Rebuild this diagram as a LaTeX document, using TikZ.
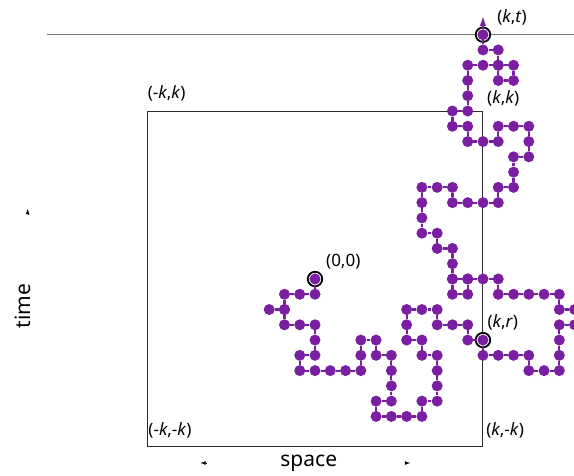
\documentclass[tikz,border=0pt]{standalone}
\usepackage{fontspec}
\setmainfont{Noto Sans}
\usetikzlibrary{arrows.meta}
\definecolor{wpurple}{RGB}{123,31,162}
\definecolor{boxgray}{RGB}{45,45,45}
\definecolor{linegray}{RGB}{120,120,120}
\def\walklist{0/0,0/-1,-1/-1,-2/-1,-2/-2,-3/-2,-2/-2,-2/-3,-1/-3,0/-3,0/-4,0/-5,-1/-5,-1/-6,0/-6,1/-6,2/-6,3/-6,3/-5,3/-4,4/-4,4/-5,5/-5,5/-6,5/-7,5/-8,4/-8,4/-9,5/-9,6/-9,7/-9,7/-8,8/-8,8/-7,8/-6,8/-5,7/-5,7/-4,6/-4,6/-3,6/-2,7/-2,8/-2,8/-3,9/-3,10/-3,10/-4,11/-4,11/-5,12/-5,13/-5,14/-5,14/-6,15/-6,16/-6,16/-5,16/-4,16/-3,17/-3,17/-2,16/-2,16/-1,15/-1,14/-1,13/-1,12/-1,12/0,11/0,10/0,9/0,9/-1,10/-1,10/0,9/0,9/1,9/2,8/2,8/3,7/3,7/4,7/5,7/6,8/6,9/6,9/5,10/5,11/5,12/5,12/6,13/6,13/7,13/8,14/8,14/9,14/10,13/10,12/10,12/9,11/9,10/9,10/10,9/10,9/11,10/11,10/12,10/13,10/14,11/14,12/14,13/14,13/13,12/13,12/14,12/15,11/15,11/16}
\begin{document}
\begin{tikzpicture}[x=15.27pt,y=15.27pt,
  dot/.style={circle,fill=wpurple,inner sep=0pt,minimum size=11pt},
  walk/.style={draw=wpurple,line width=2.2pt},
  ring/.style={circle,draw=black,line width=1.8pt,fill=white,inner sep=0pt,minimum size=14.5pt},
  lbl/.style={font=\fontsize{17}{19}\selectfont,inner sep=0pt},
  axlbl/.style={font=\fontsize{21}{24}\selectfont,inner sep=0pt},
  tinyarrow/.style={draw=black,line width=0.2pt,-{Latex[length=5pt,width=3.5pt]}}]
\useasboundingbox (-20.63,-12.84) rectangle (16.96,18.27);
% time line
\coordinate (hl) at (-17.55,16);
\coordinate (hr) at (16.96,16);
\draw[linegray,line width=1.3pt] (hl) -- (hr);
% light cone box
\node[draw=boxgray,line width=1pt,minimum width=22*15.27pt,minimum height=22*15.27pt,inner sep=0pt] (box) at (0,0) {};
% rings
\node[ring] (ring0) at (0,0) {};
\node[ring] (ringr) at (11,-4) {};
\node[ring] (ringt) at (11,16) {};
% dots
\foreach \x/\y in \walklist {\node[dot] (v\x_\y) at (\x,\y) {};}
% edges
\foreach \x/\y [remember=\x as \lx (initially 0), remember=\y as \ly (initially 0), count=\i] in \walklist {%
  \ifnum\i>1 \draw[walk] (v\lx_\ly) -- (v\x_\y);\fi}
% final arrow
\coordinate (ttip) at (11,17.29);
\draw[walk,-{Latex[length=11pt,width=6.5pt]}] (v11_16) -- (ttip);
% labels
\node[lbl] (lkt) at (12.9,17.16) {(\textit{k},\textit{t})};
\node[lbl] (lkk) at (12.33,11.82) {(\textit{k},\textit{k})};
\node[lbl] (lmkk) at (-9.72,12.18) {(-\textit{k},\textit{k})};
\node[lbl] (lmkmk) at (-9.5,-9.89) {(-\textit{k},-\textit{k})};
\node[lbl] (lkmk) at (12.45,-9.89) {(\textit{k},-\textit{k})};
\node[lbl] (lkr) at (12.3,-2.82) {(\textit{k},\textit{r})};
\node[lbl] (l00) at (1.85,1.15) {(0,0)};
% axis labels
\node[axlbl,rotate=90] (tlabel) at (-19.16,-1.77) {time};
\node[axlbl] (slabel) at (-0.41,-12.08) {space};
% tiny arrowheads
\coordinate (ta0) at (-18.82,4.25);
\coordinate (ta1) at (-18.82,4.58);
\draw[tinyarrow] (ta0) -- (ta1);
\coordinate (sl0) at (-7.16,-12.05);
\coordinate (sl1) at (-7.49,-12.05);
\draw[tinyarrow] (sl0) -- (sl1);
\coordinate (sr0) at (5.89,-12.05);
\coordinate (sr1) at (6.22,-12.05);
\draw[tinyarrow] (sr0) -- (sr1);
\end{tikzpicture}
\end{document}
